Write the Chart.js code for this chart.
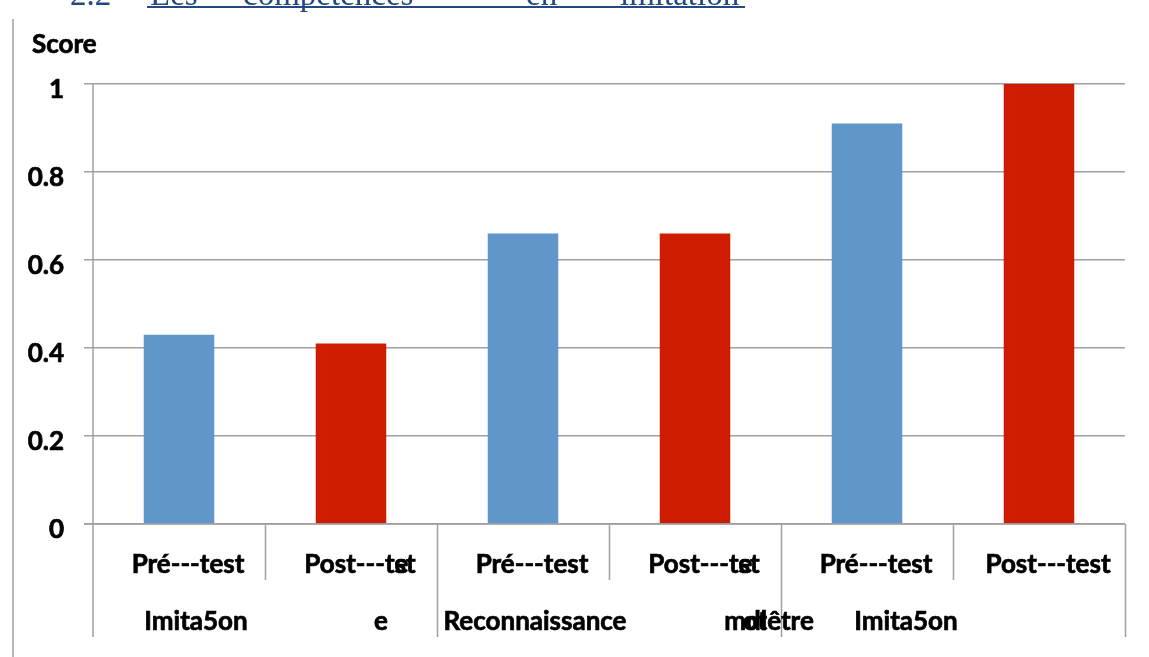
<!DOCTYPE html>
<html>
<head>
<meta charset="utf-8">
<script src="https://cdn.jsdelivr.net/npm/chart.js@4.4.1/dist/chart.umd.min.js"></script>
<style>
  html, body { margin: 0; padding: 0; background: #ffffff; }
  #wrap { position: relative; width: 1149px; height: 657px; overflow: hidden; }
  canvas { display: block; }
</style>
</head>
<body>
<div id="wrap"><canvas id="chart" width="1149" height="657"></canvas></div>
<script>
// ---- data ----
const sessionLabels = ['Pré---test', 'Post---tst', 'Pré---test', 'Post---tst', 'Pré---test', 'Post---test'];
const sessionOverlays = ['', 'e', '', 'e', '', ''];
const groupLabels = ['Imita5on', 'e', 'Reconnaissance', 'mdlêtre', 'Imita5on'];
const groupOverlays = ['', '', '', 'ot', ''];
const scores = [0.43, 0.41, 0.66, 0.66, 0.91, 1.0];
const yTicks = [0, 0.2, 0.4, 0.6, 0.8, 1];
const axisTitle = 'Score';
const headingWords = ['2.2', 'Les', 'compétences', 'en', 'imitation'];

// ---- layout / style ----
const PRE_COLOR = '#6096c9';
const POST_COLOR = '#cd1c00';
const GRID = '#a0a0a0';
const FONT_FAMILY = 'Lato, "Open Sans", sans-serif';
const LABEL_FONT = 'bold 26px ' + FONT_FAMILY;
// anchor category + pixel shift for the lower label row
const groupLabelPos = [[0, 17], [1, 30], [2, 12], [3, 74], [4, 39]];
const groupOverlayShift = [0, 0, 0, -14, 0];
const headingX = [70, 150, 243, 526, 620];

const barColors = sessionLabels.map((s, i) => (i % 2 === 0 ? PRE_COLOR : POST_COLOR));

// heavy text: fill plus a thin outline in the same colour
function heavyText(ctx, str, x, y) {
  ctx.fillText(str, x, y);
  ctx.strokeText(str, x, y);
}

const decor = {
  id: 'decor',
  afterDraw(chart) {
    const ctx = chart.ctx;
    const x = chart.scales.x;
    const y = chart.scales.y;
    const ca = chart.chartArea;
    const half = (x.getPixelForValue(1) - x.getPixelForValue(0)) / 2;
    ctx.save();

    // outer frame edge
    ctx.strokeStyle = GRID;
    ctx.lineWidth = 1.5;
    ctx.beginPath();
    ctx.moveTo(13, 19);
    ctx.lineTo(13, 657);
    ctx.stroke();

    // category separators below the axis
    ctx.beginPath();
    ctx.moveTo(ca.left, ca.top);
    ctx.lineTo(ca.left, 637);
    for (let i = 0; i < sessionLabels.length; i++) {
      const xr = Math.round(x.getPixelForValue(i) + half) + 0.5;
      const longLine = i % 2 === 1;
      ctx.moveTo(xr, ca.bottom);
      ctx.lineTo(xr, longLine ? 637 : 580);
    }
    ctx.stroke();

    // axis line
    ctx.beginPath();
    ctx.moveTo(84, ca.bottom);
    ctx.lineTo(ca.right, ca.bottom);
    ctx.stroke();

    // labels
    ctx.fillStyle = '#000000';
    ctx.strokeStyle = '#000000';
    ctx.lineWidth = 0.7;
    ctx.font = LABEL_FONT;
    ctx.textBaseline = 'middle';

    // value labels on the left
    ctx.textAlign = 'right';
    yTicks.forEach(v => heavyText(ctx, String(v), 64, y.getPixelForValue(v) + 6));

    ctx.textAlign = 'center';
    sessionLabels.forEach((lab, i) => {
      const cx = x.getPixelForValue(i) + 9;
      heavyText(ctx, lab, cx, 565);
      if (sessionOverlays[i]) {
        const w = ctx.measureText(lab).width;
        const sx = cx - w / 2 + ctx.measureText(lab.slice(0, -2)).width;
        ctx.textAlign = 'left';
        heavyText(ctx, sessionOverlays[i], sx, 565);
        ctx.textAlign = 'center';
      }
    });
    groupLabels.forEach((lab, i) => {
      const [idx, dx] = groupLabelPos[i];
      const cx = x.getPixelForValue(idx) + dx;
      heavyText(ctx, lab, cx, 622);
      if (groupOverlays[i]) {
        heavyText(ctx, groupOverlays[i], cx + groupOverlayShift[i], 622);
      }
    });

    // axis title
    ctx.textAlign = 'left';
    heavyText(ctx, axisTitle, 32, 45);

    // section heading
    ctx.font = '33px "Liberation Serif", "DejaVu Serif", serif';
    ctx.fillStyle = '#24487f';
    ctx.textBaseline = 'alphabetic';
    headingWords.forEach((w, i) => ctx.fillText(w, headingX[i], 5));
    ctx.fillRect(147, 6, 598, 2);

    ctx.restore();
  }
};

new Chart(document.getElementById('chart'), {
  type: 'bar',
  data: {
    labels: sessionLabels,
    datasets: [{
      label: axisTitle,
      data: scores,
      backgroundColor: barColors,
      borderWidth: 0,
      categoryPercentage: 1,
      barPercentage: 0.41
    }]
  },
  options: {
    responsive: false,
    animation: false,
    layout: { padding: { left: 0, right: 24, top: 84, bottom: 0 } },
    plugins: { legend: { display: false }, tooltip: { enabled: false }, title: { display: false } },
    scales: {
      x: {
        grid: { display: false },
        border: { display: false },
        ticks: { display: false },
        afterFit(s) { s.height = 133; }
      },
      y: {
        min: 0,
        max: 1,
        afterBuildTicks(s) { s.ticks = yTicks.map(v => ({ value: v })); },
        afterFit(s) { s.width = 93; },
        border: { display: false },
        grid: { color: GRID, lineWidth: 1.5, tickLength: 9, drawTicks: true },
        ticks: { display: false }
      }
    }
  },
  plugins: [decor]
});
</script>
</body>
</html>
